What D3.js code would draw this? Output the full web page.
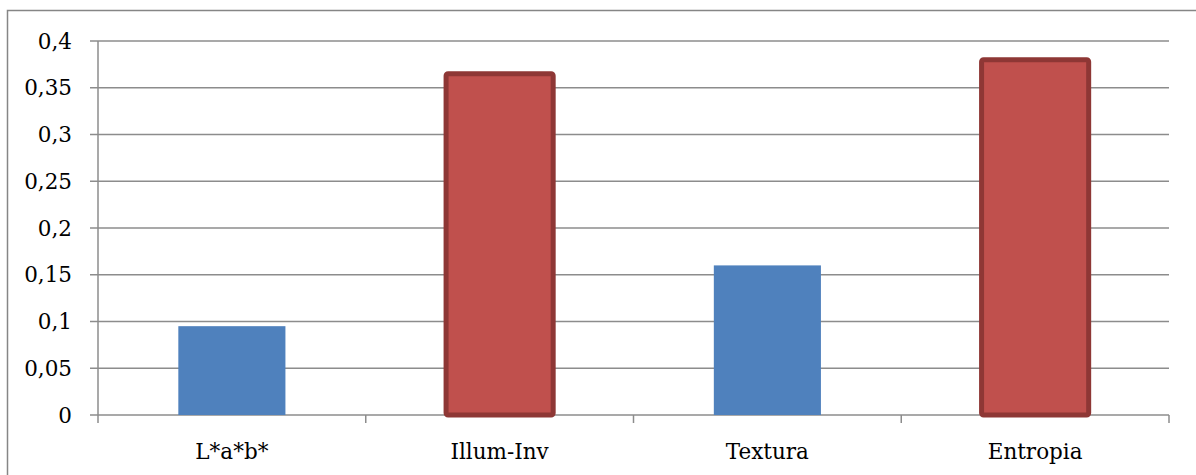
<!DOCTYPE html>
<html><head><meta charset="utf-8">
<script src="https://cdn.jsdelivr.net/npm/d3@7"></script>
<style>body{margin:0;background:#fff}svg{display:block}</style>
</head><body>
<svg id="c" width="1196" height="475"></svg>
<script>
const categories = ["L*a*b*", "Illum-Inv", "Textura", "Entropia"];
const values = [0.095, 0.365, 0.16, 0.38];
const highlighted = [false, true, false, true];
const yTicks = [0, 0.05, 0.1, 0.15, 0.2, 0.25, 0.3, 0.35, 0.4];
const yTickLabels = ["0", "0,05", "0,1", "0,15", "0,2", "0,25", "0,3", "0,35", "0,4"];

const svg = d3.select("#c");
const font = "'DejaVu Serif', serif";
// outer border
svg.append("rect").attr("x", 7.5).attr("y", 10.5).attr("width", 1200).attr("height", 480)
  .attr("fill", "none").attr("stroke", "#868686").attr("stroke-width", 1.5);

const x = d3.scaleBand().domain(categories).range([98, 1169]).padding(0);
const y = d3.scaleLinear().domain([0, 0.4]).range([415, 41]);

// gridlines
svg.append("g").selectAll("line").data(yTicks).join("line")
  .attr("x1", 90).attr("x2", 1169)
  .attr("y1", d => y(d)).attr("y2", d => y(d))
  .attr("stroke", "#8c8c8c").attr("stroke-width", 1.5);

// y axis line
svg.append("line").attr("x1", 98).attr("x2", 98).attr("y1", y(0.4)).attr("y2", 415)
  .attr("stroke", "#8c8c8c").attr("stroke-width", 1.5);

// x category ticks
const xTickPos = categories.map((c, i) => x(c)).concat([x.range()[1]]);
svg.append("g").selectAll("line").data(xTickPos).join("line")
  .attr("x1", d => d).attr("x2", d => d).attr("y1", 415).attr("y2", 423)
  .attr("stroke", "#8c8c8c").attr("stroke-width", 1.5);

// y labels
svg.append("g").selectAll("text").data(yTicks).join("text")
  .attr("x", 72).attr("y", d => y(d)).attr("dy", "0.36em")
  .attr("text-anchor", "end").attr("font-family", font).attr("font-size", 21.5)
  .attr("fill", "#000").text((d, i) => yTickLabels[i]);

// x labels
svg.append("g").selectAll("text").data(categories).join("text")
  .attr("x", d => x(d) + x.bandwidth() / 2).attr("y", 459)
  .attr("text-anchor", "middle").attr("font-family", font).attr("font-size", 21.5)
  .attr("fill", "#000").text(d => d);

// bars
const bw = x.bandwidth() * 0.4;
svg.append("g").selectAll("rect").data(categories).join("rect")
  .attr("x", d => x(d) + x.bandwidth() / 2 - bw / 2)
  .attr("y", (d, i) => y(values[i]))
  .attr("width", bw)
  .attr("height", (d, i) => 415 - y(values[i]))
  .attr("rx", (d, i) => highlighted[i] ? 2 : 0)
  .attr("fill", (d, i) => highlighted[i] ? "#c0504d" : "#4f81bd")
  .attr("stroke", (d, i) => highlighted[i] ? "#8e3735" : "none")
  .attr("stroke-width", 5);
</script>
</body></html>
